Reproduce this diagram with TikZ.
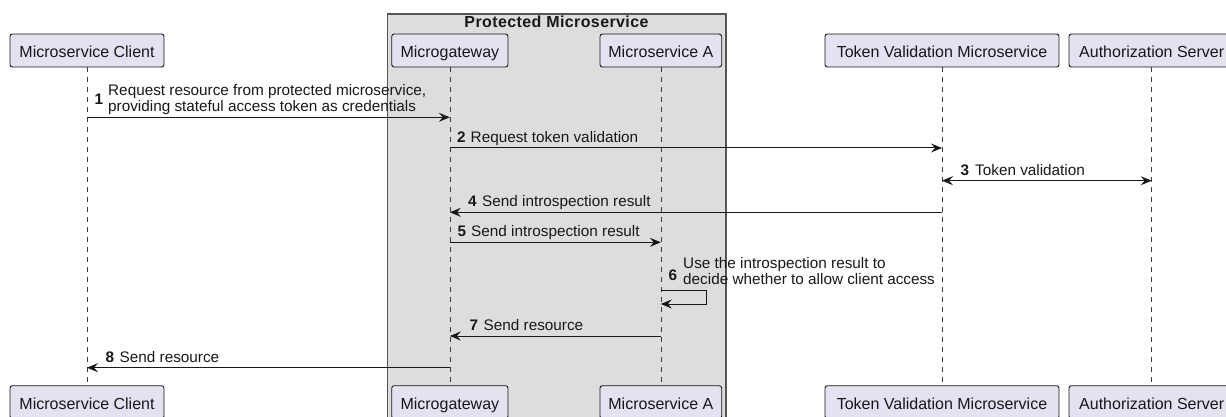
\documentclass[tikz,border=0pt]{standalone}
\usepackage{fontspec}
\setmainfont{Liberation Sans}
\newfontfamily\titlefont[LetterSpace=2.5]{Liberation Sans}
\usetikzlibrary{arrows.meta,calc}
\definecolor{partfill}{HTML}{E2E2F0}
\definecolor{ink}{HTML}{181818}
\definecolor{grpfill}{HTML}{DDDDDD}
\definecolor{grpline}{HTML}{555555}
\begin{document}
\begin{tikzpicture}[x=1pt,y=-1pt,
  part/.style={draw=ink, fill=partfill, line width=0.9pt, rounded corners=2.5pt,
    minimum height=33pt, inner sep=0pt, text height=13.6pt, text depth=0pt,
    text=ink, font=\fontsize{16}{19}\selectfont},
  life/.style={draw=ink!85, line width=0.7pt, dash pattern=on 5pt off 5pt},
  tip/.style={},
  msg/.style={draw=ink, line width=1pt, -{Stealth[length=11pt,width=9pt,inset=4pt]}},
  msgboth/.style={draw=ink, line width=1pt, {Stealth[length=11pt,width=9pt,inset=4pt]}-{Stealth[length=11pt,width=9pt,inset=4pt]}},
  num/.style={font=\fontsize{15.3}{18}\selectfont\bfseries, inner sep=0pt, anchor=base west, text=ink},
  lbl/.style={font=\fontsize{15.3}{18}\selectfont, inner sep=0pt, anchor=base west, text=ink},
  grp/.style={draw=grpline, fill=grpfill, line width=1.4pt},
  grptitle/.style={font=\titlefont\fontsize{16}{19}\selectfont\bfseries, inner sep=0pt, anchor=base, text=ink}]
\useasboundingbox (0,0) rectangle (1226,417);
\clip (0,0) rectangle (1226,417);

% group box
\path[grp] (387.3,14) rectangle (726,440);
\node[grptitle] (gt) at (556.5,27.5) {Protected Microservice};

% participants (top)
\node[part, minimum width=154pt]   (c) at (87,50.5)     {Microservice Client};
\node[part, minimum width=116.3pt] (g) at (449.85,50.5) {Microgateway};
\node[part, minimum width=121.7pt] (a) at (660.85,50.5) {Microservice A};
\node[part, minimum width=234pt]   (t) at (942,50.5)    {Token Validation Microservice};
\node[part, minimum width=165.4pt] (s) at (1151.7,50.5) {Authorization Server};

% participants (bottom)
\node[part, minimum width=154pt]   (cb) at (87,402.2)     {Microservice Client};
\node[part, minimum width=116.3pt] (gb) at (449.85,402.2) {Microgateway};
\node[part, minimum width=121.7pt] (ab) at (660.85,402.2) {Microservice A};
\node[part, minimum width=234pt]   (tb) at (942,402.2)    {Token Validation Microservice};
\node[part, minimum width=165.4pt] (sb) at (1151.7,402.2) {Authorization Server};

% lifelines
\draw[life] (c.south) -- (cb.north);
\draw[life] (g.south) -- (gb.north);
\draw[life] (a.south) -- (ab.north);
\draw[life] (t.south) -- (tb.north);
\draw[life] (s.south) -- (sb.north);

% message rows
\coordinate (r1) at (0,117.3);
\coordinate (r2) at (0,148);
\coordinate (r3) at (0,180.7);
\coordinate (r4) at (0,212.3);
\coordinate (r5) at (0,242.3);
\coordinate (r6) at (0,290);
\coordinate (r6b) at (0,304);
\coordinate (r7) at (0,336);
\coordinate (r8) at (0,367.7);

% messages
\draw[msg] (c |- r1) -- (g |- r1);
\draw[msg] (g |- r2) -- (t |- r2);
\draw[msgboth] (t |- r3) -- (s |- r3);
\draw[msg] (t |- r4) -- (g |- r4);
\draw[msg] (g |- r5) -- (a |- r5);
\draw[msg] (a |- r6) -- ++(45.3,0) -- ++(0,14) -- (a |- r6b);
\draw[msg] (a |- r7) -- (g |- r7);
\draw[msg] (g |- r8) -- (c |- r8);

% labels
\node[num] (n1) at (94.5,105) {1};
\node[lbl] (t1a) at (108,95.8) {Request resource from protected microservice,};
\node[lbl] (t1b) at (108,111.8) {providing stateful access token as credentials};

\node[num] (n2) at (457,142.5) {2};
\node[lbl] (t2) at (470.5,142.5) {Request token validation};

\node[num] (n3) at (960.5,175.2) {3};
\node[lbl] (t3) at (975,175.2) {Token validation};

\node[num] (n4) at (468,206.8) {4};
\node[lbl] (t4) at (482,206.8) {Send introspection result};

\node[num] (n5) at (457.5,236.8) {5};
\node[lbl] (t5) at (471,236.8) {Send introspection result};

\node[num] (n6) at (668.5,280.5) {6};
\node[lbl] (t6a) at (683,268.5) {Use the introspection result to};
\node[lbl] (t6b) at (683,284.5) {decide whether to allow client access};

\node[num] (n7) at (469.5,330.5) {7};
\node[lbl] (t7) at (483.5,330.5) {Send resource};

\node[num] (n8) at (105.5,362.2) {8};
\node[lbl] (t8) at (119.5,362.2) {Send resource};
\end{tikzpicture}
\end{document}
